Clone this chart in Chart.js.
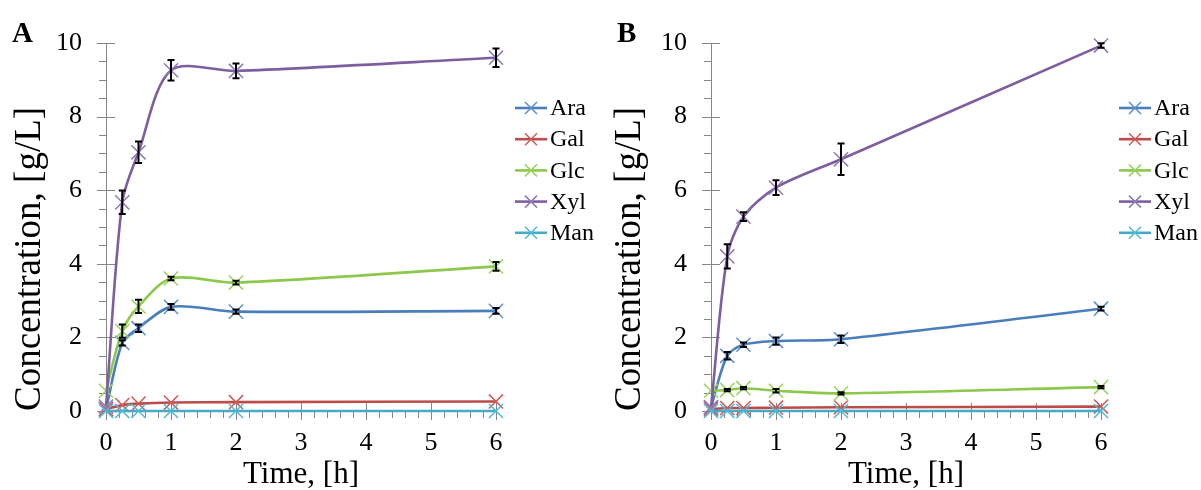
<!DOCTYPE html>
<html>
<head>
<meta charset="utf-8">
<script src="https://cdn.jsdelivr.net/npm/chart.js@4/dist/chart.umd.min.js"></script>
<style>
  body { margin: 0; background: #fff; }
  #wrap { position: relative; width: 1201px; height: 490px; }
  canvas { position: absolute; top: 0; }
</style>
</head>
<body>
<div id="wrap">
  <canvas id="chartA" width="600" height="490" style="left:0"></canvas>
  <canvas id="chartB" width="601" height="490" style="left:600px"></canvas>
</div>
<script>
// ---- data ----
const times = [0, 0.25, 0.5, 1, 2, 6];
const seriesNames = ["Ara", "Gal", "Glc", "Xyl", "Man"];
const lineColors = ["#4a7ebb", "#be4b48", "#8cc84b", "#7d5fa0", "#46aac5"];
const markerColors = ["#5b8fd2", "#d05a56", "#98d45a", "#9378b6", "#4cbad8"];

// Panel A
const araA = [0.05, 1.85, 2.25, 2.83, 2.70, 2.72];
const galA = [0.05, 0.16, 0.20, 0.23, 0.24, 0.26];
const glcA = [0.55, 2.17, 2.84, 3.60, 3.49, 3.93];
const xylA = [0.12, 5.67, 7.03, 9.26, 9.24, 9.60];
const manA = [0, 0, 0, 0, 0, 0];
const araErrA = [0, 0.07, 0.10, 0.08, 0.06, 0.08];
const galErrA = [0, 0, 0, 0, 0, 0];
const glcErrA = [0, 0.18, 0.18, 0.05, 0.05, 0.12];
const xylErrA = [0, 0.32, 0.29, 0.28, 0.20, 0.25];
const manErrA = [0, 0, 0, 0, 0, 0];

// Panel B
const araB = [0.10, 1.50, 1.80, 1.90, 1.95, 2.78];
const galB = [0.05, 0.08, 0.08, 0.09, 0.10, 0.12];
const glcB = [0.55, 0.57, 0.62, 0.55, 0.48, 0.65];
const xylB = [0.10, 4.20, 5.28, 6.07, 6.84, 9.93];
const manB = [0, 0, 0, 0, 0, 0];
const araErrB = [0, 0.10, 0.06, 0.10, 0.10, 0.05];
const galErrB = [0, 0, 0, 0, 0, 0];
const glcErrB = [0, 0.03, 0.03, 0.05, 0.03, 0.03];
const xylErrB = [0, 0.33, 0.12, 0.20, 0.43, 0.06];
const manErrB = [0, 0, 0, 0, 0, 0];

const yTicks = { min: 0, max: 10, step: 2, minor: 0.5 };
const xTicks = { min: 0, max: 6, step: 1, minor: 0.2 };

const SERIF = "'Liberation Serif', 'Times New Roman', serif";
const AXIS_GRAY = "#868686";

/**
 * Build line datasets (Excel-style smoothed lines with X markers)
 */
function buildDatasets(values, errors) {
    // Excel draws the last series on top -> give it the lowest order
    return values.map((vals, i) => ({
        label: seriesNames[i],
        data: vals.map((v, k) => ({ x: times[k], y: v })),
        errors: errors[i],
        order: values.length - i,
        borderColor: lineColors[i],
        borderWidth: 2.6,
        tension: 0.3,
        fill: false,
        clip: false,
        pointStyle: "crossRot",
        pointRadius: 10,
        pointHoverRadius: 10,
        pointBorderWidth: 1.5,
        pointBorderColor: markerColors[i],
        pointBackgroundColor: markerColors[i]
    }));
}

/**
 * Black I-shaped error bars
 */
const errorBarPlugin = {
    id: "errorBars",
    afterDatasetsDraw(chart) {
        const { ctx, scales: { x, y } } = chart;
        ctx.save();
        ctx.strokeStyle = "#000";
        ctx.lineWidth = 2;
        chart.data.datasets.forEach(ds => {
            ds.data.forEach((p, k) => {
                const e = ds.errors[k];
                if (!e) return;
                const px = x.getPixelForValue(p.x);
                const top = y.getPixelForValue(p.y + e);
                const bot = y.getPixelForValue(p.y - e);
                ctx.beginPath();
                ctx.moveTo(px, top); ctx.lineTo(px, bot);
                ctx.moveTo(px - 3.5, top); ctx.lineTo(px + 3.5, top);
                ctx.moveTo(px - 3.5, bot); ctx.lineTo(px + 3.5, bot);
                ctx.stroke();
            });
        });
        ctx.restore();
    }
};

/**
 * Excel-style tick marks: majors cross the axis, minors sit outside
 */
const tickMarkPlugin = {
    id: "tickMarks",
    beforeDatasetsDraw(chart) {
        const { ctx, scales: { x, y } } = chart;
        const x0 = x.getPixelForValue(0);
        const y0 = y.getPixelForValue(0);
        ctx.save();
        ctx.strokeStyle = AXIS_GRAY;
        ctx.lineWidth = 1;
        ctx.beginPath();
        for (let v = yTicks.min; v <= yTicks.max + 1e-9; v += yTicks.minor) {
            const py = Math.round(y.getPixelForValue(v)) + 0.5;
            const major = Math.abs(v / yTicks.step - Math.round(v / yTicks.step)) < 1e-6;
            ctx.moveTo(x0 - (major ? 9 : 7), py);
            ctx.lineTo(major ? x0 + 9 : x0, py);
        }
        for (let v = xTicks.min; v <= xTicks.max + 1e-9; v += xTicks.minor) {
            const px = Math.round(x.getPixelForValue(v)) + 0.5;
            const major = Math.abs(v / xTicks.step - Math.round(v / xTicks.step)) < 1e-6;
            ctx.moveTo(px, major ? y0 - 8 : y0);
            ctx.lineTo(px, y0 + (major ? 9 : 7));
        }
        ctx.stroke();
        ctx.restore();
    }
};

/**
 * Legend with line + marker samples, and the panel letter
 */
const legendPlugin = {
    id: "sideLegend",
    afterDraw(chart, args, opts) {
        const ctx = chart.ctx;
        ctx.save();
        chart.data.datasets.forEach((ds, i) => {
            const yy = opts.top + i * 31.2;
            const xx = opts.left;
            ctx.strokeStyle = ds.borderColor;
            ctx.lineWidth = 2.6;
            ctx.beginPath();
            ctx.moveTo(xx, yy); ctx.lineTo(xx + 32, yy);
            ctx.stroke();
            ctx.strokeStyle = ds.pointBorderColor;
            ctx.lineWidth = 1.5;
            ctx.beginPath();
            ctx.moveTo(xx + 16 - 6, yy - 6); ctx.lineTo(xx + 16 + 6, yy + 6);
            ctx.moveTo(xx + 16 - 6, yy + 6); ctx.lineTo(xx + 16 + 6, yy - 6);
            ctx.stroke();
            ctx.fillStyle = "#000";
            ctx.font = `24px ${SERIF}`;
            ctx.textBaseline = "middle";
            ctx.textAlign = "left";
            ctx.fillText(ds.label, xx + 35, yy + 1);
        });
        ctx.font = `bold 29px ${SERIF}`;
        ctx.textBaseline = "alphabetic";
        ctx.fillText(opts.letter, opts.letterX, 42);
        ctx.restore();
    }
};

function makeChart(canvasId, values, errors, yAxisWidth, rightPad, letter, letterX, legendLeft) {
    const ctx = document.getElementById(canvasId).getContext("2d");
    return new Chart(ctx, {
        type: "line",
        data: { datasets: buildDatasets(values, errors) },
        plugins: [tickMarkPlugin, errorBarPlugin, legendPlugin],
        options: {
            responsive: false,
            animation: false,
            events: [],
            layout: { padding: { top: 43, right: rightPad, bottom: 0, left: 0 } },
            plugins: {
                legend: { display: false },
                tooltip: { enabled: false },
                sideLegend: { top: 108, left: legendLeft, letter, letterX }
            },
            scales: {
                x: {
                    type: "linear",
                    min: xTicks.min,
                    max: xTicks.max,
                    afterFit: s => { s.height = 79; },
                    ticks: { stepSize: xTicks.step, color: "#000", padding: 17, font: { family: SERIF, size: 26 } },
                    grid: { drawOnChartArea: false, drawTicks: false },
                    border: { color: AXIS_GRAY, width: 1 },
                    title: {
                        display: true,
                        text: "Time, [h]",
                        color: "#000",
                        font: { family: SERIF, size: 31, lineHeight: 1 },
                        padding: { top: 0, bottom: 0 }
                    }
                },
                y: {
                    type: "linear",
                    min: yTicks.min,
                    max: yTicks.max,
                    afterFit: s => { s.width = yAxisWidth; },
                    ticks: { stepSize: yTicks.step, color: "#000", padding: 24, font: { family: SERIF, size: 26 } },
                    grid: { drawOnChartArea: false, drawTicks: false },
                    border: { color: AXIS_GRAY, width: 1 },
                    title: {
                        display: true,
                        text: "Concentration, [g/L]",
                        align: "start",
                        color: "#000",
                        font: { family: SERIF, size: 37, lineHeight: 1 },
                        padding: { top: 12, bottom: 0 }
                    }
                }
            }
        }
    });
}

makeChart("chartA",
    [araA, galA, glcA, xylA, manA],
    [araErrA, galErrA, glcErrA, xylErrA, manErrA],
    106, 104, "A", 12, 515);

makeChart("chartB",
    [araB, galB, glcB, xylB, manB],
    [araErrB, galErrB, glcErrB, xylErrB, manErrB],
    111, 100, "B", 17, 519);
</script>
</body>
</html>
